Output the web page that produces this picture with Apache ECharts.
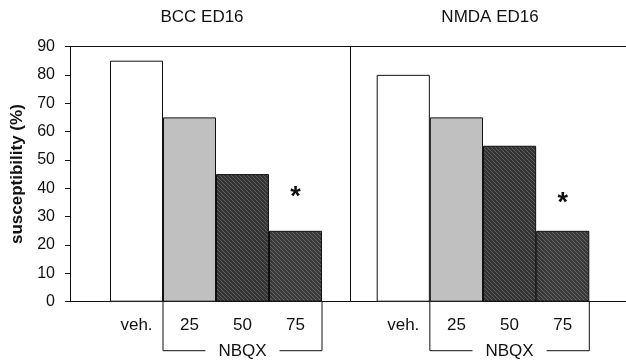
<!DOCTYPE html>
<html>
<head>
<meta charset="utf-8">
<script src="https://cdn.jsdelivr.net/npm/echarts@6/dist/echarts.min.js"></script>
<style>
  html, body { margin: 0; padding: 0; background: #fff; }
  #chart { width: 626px; height: 360px; }
</style>
</head>
<body>
<div id="chart"></div>
<script>
const categories = ['veh.', '25', '50', '75']
const bccValues = [85, 65, 45, 25]
const nmdaValues = [80, 65, 55, 25]
const panelTitles = ['BCC ED16', 'NMDA ED16']
const groupLabel = 'NBQX'
const yTicks = { min: 0, max: 90, interval: 10 }

const FONT = 'Liberation Sans, Arial, sans-serif'
const TOP = 46.5
const BOTTOM = 58.3

// dense diagonal hatch used for the darker bars
function hatch(bg, fg) {
  const c = document.createElement('canvas')
  c.width = 4
  c.height = 4
  const ctx = c.getContext('2d')
  ctx.fillStyle = bg
  ctx.fillRect(0, 0, 4, 4)
  ctx.fillStyle = fg
  for (let i = 0; i < 4; i++) ctx.fillRect(i, i, 1, 1)
  return { image: c, repeat: 'repeat' }
}

const fills = ['#ffffff', '#c0c0c0', hatch('#353535', '#5c5c5c'), hatch('#3a3a3a', '#626262')]

function barData(values, starOffset) {
  return values.map((v, i) => {
    const item = { value: v, itemStyle: { color: fills[i] } }
    if (i === values.length - 1) {
      item.label = {
        show: true, formatter: '*', position: 'top', distance: starOffset,
        fontSize: 27, fontWeight: 'bold', color: '#111', fontFamily: FONT
      }
    }
    return item
  })
}

const chart = echarts.init(document.getElementById('chart'))

const barXAxis = (gridIndex) => ({
  type: 'category', gridIndex, data: categories,
  axisLine: { show: false }, axisTick: { show: false },
  axisLabel: { color: '#111', fontSize: 17, fontFamily: FONT, margin: 15 }
})
const barYAxis = (gridIndex, showLine) => ({
  type: 'value', gridIndex, min: yTicks.min, max: yTicks.max, interval: yTicks.interval,
  offset: showLine ? 26 : 0,
  axisLine: { show: showLine, lineStyle: { color: '#111', width: 1 } },
  axisTick: { show: false }, axisLabel: { show: false }, splitLine: { show: false }
})

const titleStyle = { fontSize: 17, fontWeight: 'normal', color: '#111', fontFamily: FONT }

chart.setOption({
  animation: false,
  title: [
    { text: panelTitles[0], left: 202, top: 9, textAlign: 'center', padding: 0, textStyle: titleStyle },
    { text: panelTitles[1], left: 490, top: 9, textAlign: 'center', padding: 0, textStyle: titleStyle }
  ],
  grid: [
    { left: 70, right: 0, top: TOP, bottom: BOTTOM },
    { left: 110, width: 212, top: TOP, bottom: BOTTOM },
    { left: 376.7, right: 36.7, top: TOP, bottom: BOTTOM }
  ],
  xAxis: [
    { type: 'value', gridIndex: 0, min: 0, max: 1, position: 'bottom',
      axisLine: { show: true, onZero: false, lineStyle: { color: '#111', width: 1 } },
      axisTick: { show: false }, axisLabel: { show: false }, splitLine: { show: false } },
    { type: 'value', gridIndex: 0, min: 0, max: 1, position: 'top',
      axisLine: { show: true, onZero: false, lineStyle: { color: '#111', width: 1 } },
      axisTick: { show: false }, axisLabel: { show: false }, splitLine: { show: false } },
    barXAxis(1),
    barXAxis(2)
  ],
  yAxis: [
    { type: 'value', gridIndex: 0, min: yTicks.min, max: yTicks.max, interval: yTicks.interval,
      name: 'susceptibility (%)', nameLocation: 'middle', nameGap: 43,
      nameTextStyle: { fontSize: 17, fontWeight: 'bold', color: '#111', fontFamily: FONT },
      axisLine: { show: true, lineStyle: { color: '#111', width: 1 } },
      axisTick: { show: true, inside: false, length: 5, lineStyle: { color: '#111' } },
      axisLabel: { color: '#111', fontSize: 16, fontFamily: FONT, margin: 15 },
      splitLine: { show: false } },
    barYAxis(1, false),
    barYAxis(2, true)
  ],
  series: [
    { type: 'bar', xAxisIndex: 2, yAxisIndex: 1, data: barData(bccValues, 20),
      barCategoryGap: 0, itemStyle: { borderColor: '#111', borderWidth: 1 } },
    { type: 'bar', xAxisIndex: 3, yAxisIndex: 2, data: barData(nmdaValues, 14),
      barCategoryGap: 0, itemStyle: { borderColor: '#111', borderWidth: 1 } }
  ]
})

// NBQX brackets under the drug-dose bars, placed from the axis scales
function bracket(xAxisIndex, yAxisIndex) {
  const c1 = chart.convertToPixel({ xAxisIndex }, categories[1])
  const c3 = chart.convertToPixel({ xAxisIndex }, categories[3])
  const half = (c3 - c1) / 4
  const x1 = c1 - half
  const x2 = c3 + half
  const y0 = chart.convertToPixel({ yAxisIndex }, 0)
  const y1 = y0 + 49
  return [
    { type: 'polyline', silent: true,
      shape: { points: [[x1, y0], [x1, y1], [x2, y1], [x2, y0]] },
      style: { stroke: '#111', lineWidth: 1, fill: null } },
    { type: 'text', silent: true, x: (x1 + x2) / 2, y: y1 + 1,
      style: { text: groupLabel, align: 'center', verticalAlign: 'middle',
        fontSize: 17, fontFamily: FONT, fill: '#111', backgroundColor: '#fff', padding: [0, 13] } }
  ]
}

chart.setOption({ graphic: [...bracket(2, 1), ...bracket(3, 2)] })
</script>
</body>
</html>
